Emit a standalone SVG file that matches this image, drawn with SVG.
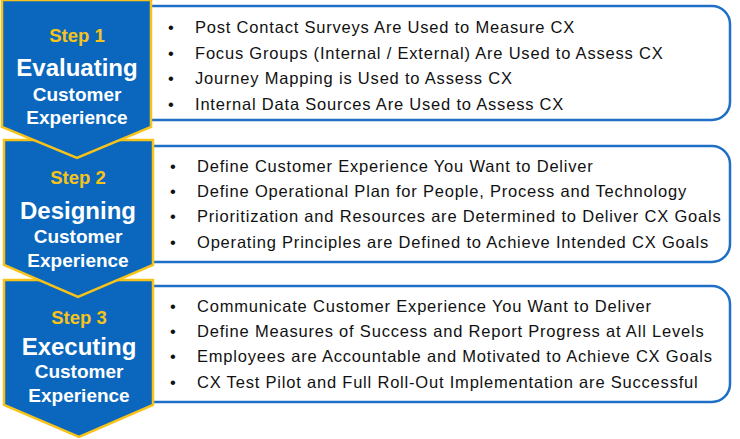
<svg xmlns="http://www.w3.org/2000/svg" width="740" height="439" viewBox="0 0 740 439">
<style>
.box{fill:#fff;stroke:#1f6fc5;stroke-width:2.5}
.chev{fill:#0a67bd;stroke:#f7c31a;stroke-width:2.5}
.st{font-family:"Liberation Sans",Arial,sans-serif;font-weight:bold;fill:#f7c31a;font-size:18.5px;text-anchor:middle}
.big{font-family:"Liberation Sans",Arial,sans-serif;font-weight:bold;fill:#fff;font-size:24px;text-anchor:middle}
.sub{font-family:"Liberation Sans",Arial,sans-serif;font-weight:bold;fill:#fff;font-size:19px;text-anchor:middle}
.it{font-family:"Liberation Sans",Arial,sans-serif;fill:#111;font-size:16.5px;letter-spacing:0.8px}
</style>
<g id="connectors"></g>
<g id="box1"><path class="box" d="M140 6 H712 a18 18 0 0 1 18 18 V102 a18 18 0 0 1 -18 18 H140 Z"/>
<g class="it"><text x="168" y="33">•</text><text x="195" y="33">Post Contact Surveys Are Used to Measure CX</text>
<text x="168" y="59">•</text><text x="195" y="59">Focus Groups (Internal / External) Are Used to Assess CX</text>
<text x="168" y="84">•</text><text x="195" y="84">Journey Mapping is Used to Assess CX</text>
<text x="168" y="110">•</text><text x="195" y="110">Internal Data Sources Are Used to Assess CX</text></g></g>
<g id="box2"><path class="box" d="M140 146 H712 a18 18 0 0 1 18 18 V244 a18 18 0 0 1 -18 18 H140 Z"/>
<g class="it"><text x="170" y="172">•</text><text x="197" y="172">Define Customer Experience You Want to Deliver</text>
<text x="170" y="197">•</text><text x="197" y="197">Define Operational Plan for People, Process and Technology</text>
<text x="170" y="222">•</text><text x="197" y="222">Prioritization and Resources are Determined to Deliver CX Goals</text>
<text x="170" y="248">•</text><text x="197" y="248">Operating Principles are Defined to Achieve Intended CX Goals</text></g></g>
<g id="box3"><path class="box" d="M140 286 H712 a18 18 0 0 1 18 18 V384 a18 18 0 0 1 -18 18 H140 Z"/>
<g class="it"><text x="170" y="312">•</text><text x="197" y="312">Communicate Customer Experience You Want to Deliver</text>
<text x="170" y="337">•</text><text x="197" y="337">Define Measures of Success and Report Progress at All Levels</text>
<text x="170" y="362">•</text><text x="197" y="362">Employees are Accountable and Motivated to Achieve CX Goals</text>
<text x="170" y="388">•</text><text x="197" y="388">CX Test Pilot and Full Roll-Out Implementation are Successful</text></g></g>
<g id="step3"><path class="chev" d="M4 280 H153 V405 L79 437 L4 405 Z"/>
<text class="st" x="79" y="324">Step 3</text><text class="big" x="79" y="355">Executing</text>
<text class="sub" x="79" y="378">Customer</text><text class="sub" x="79" y="402">Experience</text></g>
<g id="step2"><path class="chev" d="M4 140 H153 V265 L78 297 L4 265 Z"/>
<text class="st" x="78" y="184">Step 2</text><text class="big" x="78" y="219">Designing</text>
<text class="sub" x="78" y="243">Customer</text><text class="sub" x="78" y="267">Experience</text></g>
<g id="step1"><path class="chev" d="M2 0 H151 V127 L77 158 L2 127 Z"/>
<text class="st" x="77" y="42">Step 1</text><text class="big" x="77" y="76">Evaluating</text>
<text class="sub" x="77" y="101">Customer</text><text class="sub" x="77" y="124">Experience</text></g>
</svg>
